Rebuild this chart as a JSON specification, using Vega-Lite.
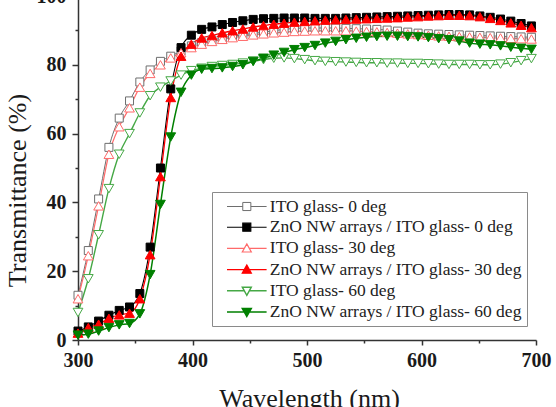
{
  "$schema": "https://vega.github.io/schema/vega-lite/v6.json",
  "width": 458,
  "height": 344,
  "autosize": "none",
  "padding": {"left": 78, "top": -4, "right": 20, "bottom": 67},
  "background": "white",
  "config": {"view": {"stroke": null}, "font": "Liberation Serif"},
  "data": {"values": [
    {"s": "ITO glass- 0 deg", "w": 300, "t": 13}, {"s": "ITO glass- 0 deg", "w": 309, "t": 26}, {"s": "ITO glass- 0 deg", "w": 318, "t": 41}, {"s": "ITO glass- 0 deg", "w": 327, "t": 56}, {"s": "ITO glass- 0 deg", "w": 336, "t": 64.5}, {"s": "ITO glass- 0 deg", "w": 345, "t": 69.5}, {"s": "ITO glass- 0 deg", "w": 354, "t": 75}, {"s": "ITO glass- 0 deg", "w": 363, "t": 78.5}, {"s": "ITO glass- 0 deg", "w": 372, "t": 81}, {"s": "ITO glass- 0 deg", "w": 381, "t": 82.5}, {"s": "ITO glass- 0 deg", "w": 390, "t": 84}, {"s": "ITO glass- 0 deg", "w": 399, "t": 85.5}, {"s": "ITO glass- 0 deg", "w": 408, "t": 86.5}, {"s": "ITO glass- 0 deg", "w": 417, "t": 87.2}, {"s": "ITO glass- 0 deg", "w": 426, "t": 87.8}, {"s": "ITO glass- 0 deg", "w": 435, "t": 88.3}, {"s": "ITO glass- 0 deg", "w": 444, "t": 88.7}, {"s": "ITO glass- 0 deg", "w": 453, "t": 89.1}, {"s": "ITO glass- 0 deg", "w": 462, "t": 89.5}, {"s": "ITO glass- 0 deg", "w": 471, "t": 89.9}, {"s": "ITO glass- 0 deg", "w": 480, "t": 90.3}, {"s": "ITO glass- 0 deg", "w": 489, "t": 90.6}, {"s": "ITO glass- 0 deg", "w": 498, "t": 90.7}, {"s": "ITO glass- 0 deg", "w": 507, "t": 90.7}, {"s": "ITO glass- 0 deg", "w": 516, "t": 90.7}, {"s": "ITO glass- 0 deg", "w": 525, "t": 90.7}, {"s": "ITO glass- 0 deg", "w": 534, "t": 90.6}, {"s": "ITO glass- 0 deg", "w": 543, "t": 90.5}, {"s": "ITO glass- 0 deg", "w": 552, "t": 90.4}, {"s": "ITO glass- 0 deg", "w": 561, "t": 90.3}, {"s": "ITO glass- 0 deg", "w": 570, "t": 90.1}, {"s": "ITO glass- 0 deg", "w": 579, "t": 89.8}, {"s": "ITO glass- 0 deg", "w": 588, "t": 89.5}, {"s": "ITO glass- 0 deg", "w": 597, "t": 89.2}, {"s": "ITO glass- 0 deg", "w": 606, "t": 89.0}, {"s": "ITO glass- 0 deg", "w": 615, "t": 88.9}, {"s": "ITO glass- 0 deg", "w": 624, "t": 88.8}, {"s": "ITO glass- 0 deg", "w": 633, "t": 88.7}, {"s": "ITO glass- 0 deg", "w": 642, "t": 88.6}, {"s": "ITO glass- 0 deg", "w": 651, "t": 88.5}, {"s": "ITO glass- 0 deg", "w": 660, "t": 88.4}, {"s": "ITO glass- 0 deg", "w": 669, "t": 88.3}, {"s": "ITO glass- 0 deg", "w": 678, "t": 88.2}, {"s": "ITO glass- 0 deg", "w": 687, "t": 88.1}, {"s": "ITO glass- 0 deg", "w": 696, "t": 88.0},

    {"s": "ZnO NW arrays / ITO glass- 0 deg", "w": 300, "t": 2.6}, {"s": "ZnO NW arrays / ITO glass- 0 deg", "w": 309, "t": 3.8}, {"s": "ZnO NW arrays / ITO glass- 0 deg", "w": 318, "t": 5.5}, {"s": "ZnO NW arrays / ITO glass- 0 deg", "w": 327, "t": 7.2}, {"s": "ZnO NW arrays / ITO glass- 0 deg", "w": 336, "t": 8.6}, {"s": "ZnO NW arrays / ITO glass- 0 deg", "w": 345, "t": 9.6}, {"s": "ZnO NW arrays / ITO glass- 0 deg", "w": 354, "t": 13.5}, {"s": "ZnO NW arrays / ITO glass- 0 deg", "w": 363, "t": 27}, {"s": "ZnO NW arrays / ITO glass- 0 deg", "w": 372, "t": 50}, {"s": "ZnO NW arrays / ITO glass- 0 deg", "w": 381, "t": 73}, {"s": "ZnO NW arrays / ITO glass- 0 deg", "w": 390, "t": 85}, {"s": "ZnO NW arrays / ITO glass- 0 deg", "w": 399, "t": 88.6}, {"s": "ZnO NW arrays / ITO glass- 0 deg", "w": 408, "t": 90.3}, {"s": "ZnO NW arrays / ITO glass- 0 deg", "w": 417, "t": 91}, {"s": "ZnO NW arrays / ITO glass- 0 deg", "w": 426, "t": 91.7}, {"s": "ZnO NW arrays / ITO glass- 0 deg", "w": 435, "t": 92.3}, {"s": "ZnO NW arrays / ITO glass- 0 deg", "w": 444, "t": 92.8}, {"s": "ZnO NW arrays / ITO glass- 0 deg", "w": 453, "t": 93.2}, {"s": "ZnO NW arrays / ITO glass- 0 deg", "w": 462, "t": 93.4}, {"s": "ZnO NW arrays / ITO glass- 0 deg", "w": 471, "t": 93.5}, {"s": "ZnO NW arrays / ITO glass- 0 deg", "w": 480, "t": 93.6}, {"s": "ZnO NW arrays / ITO glass- 0 deg", "w": 489, "t": 93.6}, {"s": "ZnO NW arrays / ITO glass- 0 deg", "w": 498, "t": 93.6}, {"s": "ZnO NW arrays / ITO glass- 0 deg", "w": 507, "t": 93.5}, {"s": "ZnO NW arrays / ITO glass- 0 deg", "w": 516, "t": 93.5}, {"s": "ZnO NW arrays / ITO glass- 0 deg", "w": 525, "t": 93.5}, {"s": "ZnO NW arrays / ITO glass- 0 deg", "w": 534, "t": 93.6}, {"s": "ZnO NW arrays / ITO glass- 0 deg", "w": 543, "t": 93.7}, {"s": "ZnO NW arrays / ITO glass- 0 deg", "w": 552, "t": 93.8}, {"s": "ZnO NW arrays / ITO glass- 0 deg", "w": 561, "t": 93.9}, {"s": "ZnO NW arrays / ITO glass- 0 deg", "w": 570, "t": 94.0}, {"s": "ZnO NW arrays / ITO glass- 0 deg", "w": 579, "t": 94.1}, {"s": "ZnO NW arrays / ITO glass- 0 deg", "w": 588, "t": 94.2}, {"s": "ZnO NW arrays / ITO glass- 0 deg", "w": 597, "t": 94.3}, {"s": "ZnO NW arrays / ITO glass- 0 deg", "w": 606, "t": 94.4}, {"s": "ZnO NW arrays / ITO glass- 0 deg", "w": 615, "t": 94.5}, {"s": "ZnO NW arrays / ITO glass- 0 deg", "w": 624, "t": 94.6}, {"s": "ZnO NW arrays / ITO glass- 0 deg", "w": 633, "t": 94.6}, {"s": "ZnO NW arrays / ITO glass- 0 deg", "w": 642, "t": 94.5}, {"s": "ZnO NW arrays / ITO glass- 0 deg", "w": 651, "t": 94.2}, {"s": "ZnO NW arrays / ITO glass- 0 deg", "w": 660, "t": 93.8}, {"s": "ZnO NW arrays / ITO glass- 0 deg", "w": 669, "t": 93.3}, {"s": "ZnO NW arrays / ITO glass- 0 deg", "w": 678, "t": 92.7}, {"s": "ZnO NW arrays / ITO glass- 0 deg", "w": 687, "t": 92.0}, {"s": "ZnO NW arrays / ITO glass- 0 deg", "w": 696, "t": 91.3},

    {"s": "ITO glass- 30 deg", "w": 300, "t": 12}, {"s": "ITO glass- 30 deg", "w": 309, "t": 24.5}, {"s": "ITO glass- 30 deg", "w": 318, "t": 39}, {"s": "ITO glass- 30 deg", "w": 327, "t": 54}, {"s": "ITO glass- 30 deg", "w": 336, "t": 62}, {"s": "ITO glass- 30 deg", "w": 345, "t": 67.5}, {"s": "ITO glass- 30 deg", "w": 354, "t": 73.5}, {"s": "ITO glass- 30 deg", "w": 363, "t": 77.5}, {"s": "ITO glass- 30 deg", "w": 372, "t": 80}, {"s": "ITO glass- 30 deg", "w": 381, "t": 82}, {"s": "ITO glass- 30 deg", "w": 390, "t": 83.5}, {"s": "ITO glass- 30 deg", "w": 399, "t": 85}, {"s": "ITO glass- 30 deg", "w": 408, "t": 86}, {"s": "ITO glass- 30 deg", "w": 417, "t": 86.8}, {"s": "ITO glass- 30 deg", "w": 426, "t": 87.4}, {"s": "ITO glass- 30 deg", "w": 435, "t": 87.9}, {"s": "ITO glass- 30 deg", "w": 444, "t": 88.3}, {"s": "ITO glass- 30 deg", "w": 453, "t": 88.7}, {"s": "ITO glass- 30 deg", "w": 462, "t": 89}, {"s": "ITO glass- 30 deg", "w": 471, "t": 89.3}, {"s": "ITO glass- 30 deg", "w": 480, "t": 89.5}, {"s": "ITO glass- 30 deg", "w": 489, "t": 89.7}, {"s": "ITO glass- 30 deg", "w": 498, "t": 89.8}, {"s": "ITO glass- 30 deg", "w": 507, "t": 89.9}, {"s": "ITO glass- 30 deg", "w": 516, "t": 89.9}, {"s": "ITO glass- 30 deg", "w": 525, "t": 89.9}, {"s": "ITO glass- 30 deg", "w": 534, "t": 89.9}, {"s": "ITO glass- 30 deg", "w": 543, "t": 89.8}, {"s": "ITO glass- 30 deg", "w": 552, "t": 89.7}, {"s": "ITO glass- 30 deg", "w": 561, "t": 89.6}, {"s": "ITO glass- 30 deg", "w": 570, "t": 89.4}, {"s": "ITO glass- 30 deg", "w": 579, "t": 89.2}, {"s": "ITO glass- 30 deg", "w": 588, "t": 89.0}, {"s": "ITO glass- 30 deg", "w": 597, "t": 88.8}, {"s": "ITO glass- 30 deg", "w": 606, "t": 88.6}, {"s": "ITO glass- 30 deg", "w": 615, "t": 88.4}, {"s": "ITO glass- 30 deg", "w": 624, "t": 88.3}, {"s": "ITO glass- 30 deg", "w": 633, "t": 88.2}, {"s": "ITO glass- 30 deg", "w": 642, "t": 88.1}, {"s": "ITO glass- 30 deg", "w": 651, "t": 88.0}, {"s": "ITO glass- 30 deg", "w": 660, "t": 87.9}, {"s": "ITO glass- 30 deg", "w": 669, "t": 87.8}, {"s": "ITO glass- 30 deg", "w": 678, "t": 87.7}, {"s": "ITO glass- 30 deg", "w": 687, "t": 87.6}, {"s": "ITO glass- 30 deg", "w": 696, "t": 87.5},

    {"s": "ZnO NW arrays / ITO glass- 30 deg", "w": 300, "t": 2}, {"s": "ZnO NW arrays / ITO glass- 30 deg", "w": 309, "t": 3.6}, {"s": "ZnO NW arrays / ITO glass- 30 deg", "w": 318, "t": 4.6}, {"s": "ZnO NW arrays / ITO glass- 30 deg", "w": 327, "t": 6.3}, {"s": "ZnO NW arrays / ITO glass- 30 deg", "w": 336, "t": 7.3}, {"s": "ZnO NW arrays / ITO glass- 30 deg", "w": 345, "t": 7.8}, {"s": "ZnO NW arrays / ITO glass- 30 deg", "w": 354, "t": 12}, {"s": "ZnO NW arrays / ITO glass- 30 deg", "w": 363, "t": 24.8}, {"s": "ZnO NW arrays / ITO glass- 30 deg", "w": 372, "t": 47.5}, {"s": "ZnO NW arrays / ITO glass- 30 deg", "w": 381, "t": 70.5}, {"s": "ZnO NW arrays / ITO glass- 30 deg", "w": 390, "t": 82.5}, {"s": "ZnO NW arrays / ITO glass- 30 deg", "w": 399, "t": 86}, {"s": "ZnO NW arrays / ITO glass- 30 deg", "w": 408, "t": 87.8}, {"s": "ZnO NW arrays / ITO glass- 30 deg", "w": 417, "t": 88.5}, {"s": "ZnO NW arrays / ITO glass- 30 deg", "w": 426, "t": 89.3}, {"s": "ZnO NW arrays / ITO glass- 30 deg", "w": 435, "t": 89.9}, {"s": "ZnO NW arrays / ITO glass- 30 deg", "w": 444, "t": 90.4}, {"s": "ZnO NW arrays / ITO glass- 30 deg", "w": 453, "t": 91}, {"s": "ZnO NW arrays / ITO glass- 30 deg", "w": 462, "t": 91.4}, {"s": "ZnO NW arrays / ITO glass- 30 deg", "w": 471, "t": 91.8}, {"s": "ZnO NW arrays / ITO glass- 30 deg", "w": 480, "t": 92.1}, {"s": "ZnO NW arrays / ITO glass- 30 deg", "w": 489, "t": 92.4}, {"s": "ZnO NW arrays / ITO glass- 30 deg", "w": 498, "t": 92.6}, {"s": "ZnO NW arrays / ITO glass- 30 deg", "w": 507, "t": 92.8}, {"s": "ZnO NW arrays / ITO glass- 30 deg", "w": 516, "t": 93}, {"s": "ZnO NW arrays / ITO glass- 30 deg", "w": 525, "t": 93.1}, {"s": "ZnO NW arrays / ITO glass- 30 deg", "w": 534, "t": 93.2}, {"s": "ZnO NW arrays / ITO glass- 30 deg", "w": 543, "t": 93.3}, {"s": "ZnO NW arrays / ITO glass- 30 deg", "w": 552, "t": 93.4}, {"s": "ZnO NW arrays / ITO glass- 30 deg", "w": 561, "t": 93.5}, {"s": "ZnO NW arrays / ITO glass- 30 deg", "w": 570, "t": 93.6}, {"s": "ZnO NW arrays / ITO glass- 30 deg", "w": 579, "t": 93.7}, {"s": "ZnO NW arrays / ITO glass- 30 deg", "w": 588, "t": 93.9}, {"s": "ZnO NW arrays / ITO glass- 30 deg", "w": 597, "t": 94.0}, {"s": "ZnO NW arrays / ITO glass- 30 deg", "w": 606, "t": 94.2}, {"s": "ZnO NW arrays / ITO glass- 30 deg", "w": 615, "t": 94.3}, {"s": "ZnO NW arrays / ITO glass- 30 deg", "w": 624, "t": 94.4}, {"s": "ZnO NW arrays / ITO glass- 30 deg", "w": 633, "t": 94.4}, {"s": "ZnO NW arrays / ITO glass- 30 deg", "w": 642, "t": 94.3}, {"s": "ZnO NW arrays / ITO glass- 30 deg", "w": 651, "t": 94.0}, {"s": "ZnO NW arrays / ITO glass- 30 deg", "w": 660, "t": 93.5}, {"s": "ZnO NW arrays / ITO glass- 30 deg", "w": 669, "t": 92.9}, {"s": "ZnO NW arrays / ITO glass- 30 deg", "w": 678, "t": 92.2}, {"s": "ZnO NW arrays / ITO glass- 30 deg", "w": 687, "t": 91.5}, {"s": "ZnO NW arrays / ITO glass- 30 deg", "w": 696, "t": 90.8},

    {"s": "ITO glass- 60 deg", "w": 300, "t": 8}, {"s": "ITO glass- 60 deg", "w": 309, "t": 17.8}, {"s": "ITO glass- 60 deg", "w": 318, "t": 30.6}, {"s": "ITO glass- 60 deg", "w": 327, "t": 44}, {"s": "ITO glass- 60 deg", "w": 336, "t": 54}, {"s": "ITO glass- 60 deg", "w": 345, "t": 60}, {"s": "ITO glass- 60 deg", "w": 354, "t": 66}, {"s": "ITO glass- 60 deg", "w": 363, "t": 71}, {"s": "ITO glass- 60 deg", "w": 372, "t": 73.5}, {"s": "ITO glass- 60 deg", "w": 381, "t": 75.3}, {"s": "ITO glass- 60 deg", "w": 390, "t": 77}, {"s": "ITO glass- 60 deg", "w": 399, "t": 78.3}, {"s": "ITO glass- 60 deg", "w": 408, "t": 79}, {"s": "ITO glass- 60 deg", "w": 417, "t": 79.5}, {"s": "ITO glass- 60 deg", "w": 426, "t": 79.8}, {"s": "ITO glass- 60 deg", "w": 435, "t": 80.1}, {"s": "ITO glass- 60 deg", "w": 444, "t": 80.5}, {"s": "ITO glass- 60 deg", "w": 453, "t": 81}, {"s": "ITO glass- 60 deg", "w": 462, "t": 81.5}, {"s": "ITO glass- 60 deg", "w": 471, "t": 81.9}, {"s": "ITO glass- 60 deg", "w": 480, "t": 82}, {"s": "ITO glass- 60 deg", "w": 489, "t": 81.8}, {"s": "ITO glass- 60 deg", "w": 498, "t": 81.5}, {"s": "ITO glass- 60 deg", "w": 507, "t": 81.2}, {"s": "ITO glass- 60 deg", "w": 516, "t": 81}, {"s": "ITO glass- 60 deg", "w": 525, "t": 80.9}, {"s": "ITO glass- 60 deg", "w": 534, "t": 80.8}, {"s": "ITO glass- 60 deg", "w": 543, "t": 80.7}, {"s": "ITO glass- 60 deg", "w": 552, "t": 80.6}, {"s": "ITO glass- 60 deg", "w": 561, "t": 80.6}, {"s": "ITO glass- 60 deg", "w": 570, "t": 80.5}, {"s": "ITO glass- 60 deg", "w": 579, "t": 80.5}, {"s": "ITO glass- 60 deg", "w": 588, "t": 80.4}, {"s": "ITO glass- 60 deg", "w": 597, "t": 80.4}, {"s": "ITO glass- 60 deg", "w": 606, "t": 80.3}, {"s": "ITO glass- 60 deg", "w": 615, "t": 80.2}, {"s": "ITO glass- 60 deg", "w": 624, "t": 80.1}, {"s": "ITO glass- 60 deg", "w": 633, "t": 80.1}, {"s": "ITO glass- 60 deg", "w": 642, "t": 80.1}, {"s": "ITO glass- 60 deg", "w": 651, "t": 80}, {"s": "ITO glass- 60 deg", "w": 660, "t": 80}, {"s": "ITO glass- 60 deg", "w": 669, "t": 80.2}, {"s": "ITO glass- 60 deg", "w": 678, "t": 80.6}, {"s": "ITO glass- 60 deg", "w": 687, "t": 81.2}, {"s": "ITO glass- 60 deg", "w": 696, "t": 81.8},

    {"s": "ZnO NW arrays / ITO glass- 60 deg", "w": 300, "t": 1.4}, {"s": "ZnO NW arrays / ITO glass- 60 deg", "w": 309, "t": 1.7}, {"s": "ZnO NW arrays / ITO glass- 60 deg", "w": 318, "t": 2.6}, {"s": "ZnO NW arrays / ITO glass- 60 deg", "w": 327, "t": 3.6}, {"s": "ZnO NW arrays / ITO glass- 60 deg", "w": 336, "t": 4.4}, {"s": "ZnO NW arrays / ITO glass- 60 deg", "w": 345, "t": 4.8}, {"s": "ZnO NW arrays / ITO glass- 60 deg", "w": 354, "t": 7.6}, {"s": "ZnO NW arrays / ITO glass- 60 deg", "w": 363, "t": 19}, {"s": "ZnO NW arrays / ITO glass- 60 deg", "w": 372, "t": 39.4}, {"s": "ZnO NW arrays / ITO glass- 60 deg", "w": 381, "t": 59}, {"s": "ZnO NW arrays / ITO glass- 60 deg", "w": 390, "t": 72}, {"s": "ZnO NW arrays / ITO glass- 60 deg", "w": 399, "t": 77}, {"s": "ZnO NW arrays / ITO glass- 60 deg", "w": 408, "t": 78.7}, {"s": "ZnO NW arrays / ITO glass- 60 deg", "w": 417, "t": 78.9}, {"s": "ZnO NW arrays / ITO glass- 60 deg", "w": 426, "t": 79.1}, {"s": "ZnO NW arrays / ITO glass- 60 deg", "w": 435, "t": 79.5}, {"s": "ZnO NW arrays / ITO glass- 60 deg", "w": 444, "t": 80.0}, {"s": "ZnO NW arrays / ITO glass- 60 deg", "w": 453, "t": 81.0}, {"s": "ZnO NW arrays / ITO glass- 60 deg", "w": 462, "t": 81.9}, {"s": "ZnO NW arrays / ITO glass- 60 deg", "w": 471, "t": 82.8}, {"s": "ZnO NW arrays / ITO glass- 60 deg", "w": 480, "t": 83.6}, {"s": "ZnO NW arrays / ITO glass- 60 deg", "w": 489, "t": 84.4}, {"s": "ZnO NW arrays / ITO glass- 60 deg", "w": 498, "t": 85}, {"s": "ZnO NW arrays / ITO glass- 60 deg", "w": 507, "t": 85.6}, {"s": "ZnO NW arrays / ITO glass- 60 deg", "w": 516, "t": 86.3}, {"s": "ZnO NW arrays / ITO glass- 60 deg", "w": 525, "t": 86.8}, {"s": "ZnO NW arrays / ITO glass- 60 deg", "w": 534, "t": 87.3}, {"s": "ZnO NW arrays / ITO glass- 60 deg", "w": 543, "t": 87.7}, {"s": "ZnO NW arrays / ITO glass- 60 deg", "w": 552, "t": 88}, {"s": "ZnO NW arrays / ITO glass- 60 deg", "w": 561, "t": 88.2}, {"s": "ZnO NW arrays / ITO glass- 60 deg", "w": 570, "t": 88.3}, {"s": "ZnO NW arrays / ITO glass- 60 deg", "w": 579, "t": 88.3}, {"s": "ZnO NW arrays / ITO glass- 60 deg", "w": 588, "t": 88.2}, {"s": "ZnO NW arrays / ITO glass- 60 deg", "w": 597, "t": 88.1}, {"s": "ZnO NW arrays / ITO glass- 60 deg", "w": 606, "t": 87.9}, {"s": "ZnO NW arrays / ITO glass- 60 deg", "w": 615, "t": 87.6}, {"s": "ZnO NW arrays / ITO glass- 60 deg", "w": 624, "t": 87.3}, {"s": "ZnO NW arrays / ITO glass- 60 deg", "w": 633, "t": 86.9}, {"s": "ZnO NW arrays / ITO glass- 60 deg", "w": 642, "t": 86.3}, {"s": "ZnO NW arrays / ITO glass- 60 deg", "w": 651, "t": 86}, {"s": "ZnO NW arrays / ITO glass- 60 deg", "w": 660, "t": 85.8}, {"s": "ZnO NW arrays / ITO glass- 60 deg", "w": 669, "t": 85.5}, {"s": "ZnO NW arrays / ITO glass- 60 deg", "w": 678, "t": 85.1}, {"s": "ZnO NW arrays / ITO glass- 60 deg", "w": 687, "t": 84.8}, {"s": "ZnO NW arrays / ITO glass- 60 deg", "w": 696, "t": 84.5}
  ]},
  "resolve": {"axis": {"x": "independent", "y": "independent"}},
  "layer": [
    {
      "mark": {"type": "point", "filled": true, "opacity": 0, "strokeWidth": 1.2},
      "encoding": {
        "x": {"field": "w", "type": "quantitative", "scale": {"domain": [300, 700], "nice": false, "zero": false},
          "axis": {"values": [350, 450, 550, 650], "orient": "bottom", "title": null, "labels": false, "domain": false, "grid": false,
            "tickColor": "#333333", "tickWidth": 1.5, "tickSize": 3}},
        "y": {"field": "t", "type": "quantitative", "scale": {"domain": [0, 100], "nice": false, "zero": false},
          "axis": {"values": [10, 30, 50, 70, 90], "orient": "left", "title": null, "labels": false, "domain": false, "grid": false,
            "tickColor": "#333333", "tickWidth": 1.5, "tickSize": 3}},
        "shape": {"field": "s", "type": "nominal",
          "scale": {"domain": ["ITO glass- 0 deg", "ZnO NW arrays / ITO glass- 0 deg", "ITO glass- 30 deg", "ZnO NW arrays / ITO glass- 30 deg", "ITO glass- 60 deg", "ZnO NW arrays / ITO glass- 60 deg"],
            "range": [
              "M-2.2,0H-0.45M0.45,0H2.2M-0.45,-0.45H0.45V0.45H-0.45Z",
              "M-2.2,0H-0.45M0.45,0H2.2M-0.45,-0.45H0.45V0.45H-0.45Z",
              "M-2.2,0H-0.28M0.28,0H2.2M0,-0.5L0.5,0.4L-0.5,0.4Z",
              "M-2.2,0H-0.28M0.28,0H2.2M0,-0.5L0.5,0.4L-0.5,0.4Z",
              "M-2.2,0H-0.28M0.28,0H2.2M0,0.5L0.5,-0.4L-0.5,-0.4Z",
              "M-2.2,0H-0.28M0.28,0H2.2M0,0.5L0.5,-0.4L-0.5,-0.4Z"
            ]},
          "legend": {"title": null, "orient": "none", "legendX": 134, "legendY": 196, "padding": 5,
            "fillColor": "white", "strokeColor": "#8a8a8a",
            "symbolSize": 324, "symbolStrokeWidth": 1.2, "symbolOffset": 19.8, "labelOffset": 13, "rowPadding": 2.2,
            "labelFont": "Liberation Serif", "labelFontSize": 17.5, "labelColor": "#222222", "labelLimit": 0,
            "labelExpr": "datum.label + '\u00a0\u00a0\u00a0'",
            "encode": {"symbols": {"update": {"opacity": {"value": 1}}}}}},
        "stroke": {"field": "s", "type": "nominal",
          "scale": {"domain": ["ITO glass- 0 deg", "ZnO NW arrays / ITO glass- 0 deg", "ITO glass- 30 deg", "ZnO NW arrays / ITO glass- 30 deg", "ITO glass- 60 deg", "ZnO NW arrays / ITO glass- 60 deg"],
            "range": ["#6e6e6e", "#000000", "#ff6a6a", "#ff0000", "#45a845", "#008000"]},
          "legend": {"title": null, "orient": "none", "legendX": 134, "legendY": 196, "padding": 5,
            "fillColor": "white", "strokeColor": "#8a8a8a",
            "symbolSize": 324, "symbolStrokeWidth": 1.2, "symbolOffset": 19.8, "labelOffset": 13, "rowPadding": 2.2,
            "labelFont": "Liberation Serif", "labelFontSize": 17.5, "labelColor": "#222222", "labelLimit": 0,
            "labelExpr": "datum.label + '\u00a0\u00a0\u00a0'",
            "encode": {"symbols": {"update": {"opacity": {"value": 1}}}}}},
        "fill": {"field": "s", "type": "nominal",
          "scale": {"domain": ["ITO glass- 0 deg", "ZnO NW arrays / ITO glass- 0 deg", "ITO glass- 30 deg", "ZnO NW arrays / ITO glass- 30 deg", "ITO glass- 60 deg", "ZnO NW arrays / ITO glass- 60 deg"],
            "range": ["white", "#000000", "white", "#ff0000", "white", "#008000"]},
          "legend": {"title": null, "orient": "none", "legendX": 134, "legendY": 196, "padding": 5,
            "fillColor": "white", "strokeColor": "#8a8a8a",
            "symbolSize": 324, "symbolStrokeWidth": 1.2, "symbolOffset": 19.8, "labelOffset": 13, "rowPadding": 2.2,
            "labelFont": "Liberation Serif", "labelFontSize": 17.5, "labelColor": "#222222", "labelLimit": 0,
            "labelExpr": "datum.label + '\u00a0\u00a0\u00a0'",
            "encode": {"symbols": {"update": {"opacity": {"value": 1}}}}}}
      }
    },
    {
      "mark": {"type": "line", "interpolate": "monotone"},
      "encoding": {
        "x": {"field": "w", "type": "quantitative",
          "axis": {"values": [300, 400, 500, 600, 700], "title": "Wavelength (nm)", "orient": "bottom", "grid": false,
            "domainColor": "#333333", "domainWidth": 1.5, "tickColor": "#333333", "tickWidth": 1.5, "tickSize": 5,
            "labelFont": "Liberation Serif", "labelFontWeight": "bold", "labelFontSize": 20, "labelColor": "#1a1a1a",
            "labelPadding": 5, "labelFlush": false, "labelOverlap": false, "labelBound": false,
            "titleFont": "Liberation Serif", "titleFontSize": 26, "titleFontWeight": "normal", "titleColor": "#1a1a1a",
            "titleBaseline": "top", "titleX": 231, "titleY": 45}},
        "y": {"field": "t", "type": "quantitative",
          "axis": {"values": [0, 20, 40, 60, 80, 100], "title": "Transmittance (%)", "orient": "left", "grid": false,
            "domainColor": "#333333", "domainWidth": 1.5, "tickColor": "#333333", "tickWidth": 1.5, "tickSize": 6,
            "labelFont": "Liberation Serif", "labelFontWeight": "bold", "labelFontSize": 20, "labelColor": "#1a1a1a",
            "labelPadding": 6, "labelFlush": false, "labelOverlap": false, "labelBound": false,
            "titleFont": "Liberation Serif", "titleFontSize": 26, "titleFontWeight": "normal", "titleColor": "#1a1a1a",
            "titleAngle": -90, "titleAlign": "center", "titleBaseline": "bottom", "titleX": -48, "titleY": 194}},
        "stroke": {"field": "s", "type": "nominal", "legend": null},
        "strokeWidth": {"field": "s", "type": "ordinal",
          "scale": {"domain": ["ITO glass- 0 deg", "ZnO NW arrays / ITO glass- 0 deg", "ITO glass- 30 deg", "ZnO NW arrays / ITO glass- 30 deg", "ITO glass- 60 deg", "ZnO NW arrays / ITO glass- 60 deg"],
            "range": [1, 1.5, 1, 1.5, 1, 1.5]}, "legend": null}
      }
    },
    {
      "transform": [{"filter": {"field": "s", "oneOf": ["ITO glass- 0 deg", "ZnO NW arrays / ITO glass- 0 deg"]}}],
      "mark": {"type": "point", "shape": "square", "filled": true, "size": 64, "strokeWidth": 1, "opacity": 1},
      "encoding": {
        "x": {"field": "w", "type": "quantitative", "axis": null},
        "y": {"field": "t", "type": "quantitative", "axis": null},
        "stroke": {"field": "s", "type": "nominal", "legend": null},
        "fill": {"field": "s", "type": "nominal", "legend": null}
      }
    },
    {
      "transform": [{"filter": {"field": "s", "oneOf": ["ITO glass- 30 deg", "ZnO NW arrays / ITO glass- 30 deg"]}}],
      "mark": {"type": "point", "shape": "triangle-up", "filled": true, "size": 95, "strokeWidth": 1, "opacity": 1},
      "encoding": {
        "x": {"field": "w", "type": "quantitative", "axis": null},
        "y": {"field": "t", "type": "quantitative", "axis": null},
        "stroke": {"field": "s", "type": "nominal", "legend": null},
        "fill": {"field": "s", "type": "nominal", "legend": null}
      }
    },
    {
      "transform": [{"filter": {"field": "s", "oneOf": ["ITO glass- 60 deg", "ZnO NW arrays / ITO glass- 60 deg"]}}],
      "mark": {"type": "point", "shape": "triangle-down", "filled": true, "size": 95, "strokeWidth": 1, "opacity": 1},
      "encoding": {
        "x": {"field": "w", "type": "quantitative", "axis": null},
        "y": {"field": "t", "type": "quantitative", "axis": null},
        "stroke": {"field": "s", "type": "nominal", "legend": null},
        "fill": {"field": "s", "type": "nominal", "legend": null}
      }
    }
  ]
}
